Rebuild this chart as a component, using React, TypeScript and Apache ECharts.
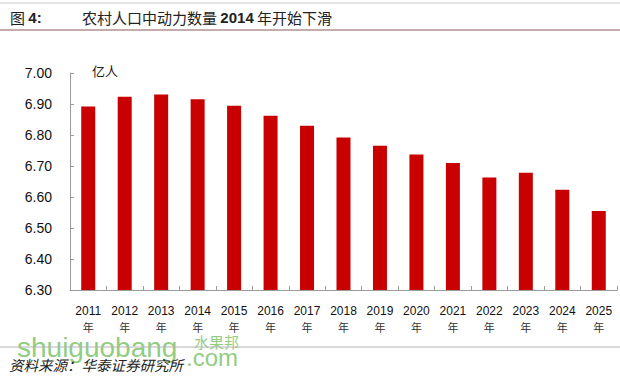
import React, { useEffect, useRef } from "react";
import * as echarts from "echarts";

const categories = ["2011", "2012", "2013", "2014", "2015", "2016", "2017", "2018", "2019", "2020", "2021", "2022", "2023", "2024", "2025"];
const values = [6.892, 6.923, 6.931, 6.915, 6.894, 6.862, 6.83, 6.792, 6.765, 6.737, 6.71, 6.663, 6.678, 6.623, 6.555];
const yMin = 6.3;
const yMax = 7.0;
const yInterval = 0.1;
const titleLabel = "图 ";
const titleNum = "4:";
const titleText = "农村人口中动力数量 ";
const titleYear = "2014";
const titleTail = " 年开始下滑";
const unitText = "亿人";
const sourceText = "资料来源：华泰证券研究所";

export default function App() {
  const ref = useRef<HTMLDivElement>(null);
  useEffect(() => {
    const chart = echarts.init(ref.current!, null, { renderer: "svg" });
    const cjk = "'Noto Sans CJK SC', 'Liberation Sans', sans-serif";
    const latin = "'Liberation Sans', Arial, sans-serif";
    const wm = "#7cc46a";
    chart.setOption({
      animation: false,
      backgroundColor: "#ffffff",
      grid: { left: 70, right: 3, top: 73, bottom: 86, containLabel: false },
      xAxis: {
        type: "category",
        data: categories,
        axisLine: { lineStyle: { color: "#9a9a9a", width: 1 } },
        axisTick: { show: true, inside: true, length: 4, lineStyle: { color: "#9a9a9a" } },
        axisLabel: {
          interval: 0,
          margin: 12,
          formatter: (v: string) => `{a|${v}}\n{b|年}`,
          rich: {
            a: { fontSize: 12, color: "#111", fontFamily: latin, lineHeight: 17 },
            b: { fontSize: 11, color: "#333", fontFamily: cjk, lineHeight: 16 },
          },
        },
      },
      yAxis: {
        type: "value",
        min: yMin,
        max: yMax,
        interval: yInterval,
        splitLine: { show: false },
        axisLine: { show: true, lineStyle: { color: "#9a9a9a", width: 1 } },
        axisTick: { show: true, inside: true, length: 4, lineStyle: { color: "#9a9a9a" } },
        axisLabel: {
          margin: 18,
          fontSize: 14,
          color: "#111",
          fontFamily: latin,
          formatter: (v: number) => v.toFixed(2),
        },
      },
      series: [
        {
          type: "bar",
          data: values,
          barWidth: 14,
          itemStyle: { color: "#C80000" },
        },
      ],
      graphic: [
        { type: "line", shape: { x1: 0, y1: 3, x2: 620, y2: 3 }, style: { stroke: "#c8c8c8", lineWidth: 1 } },
        { type: "line", shape: { x1: 0, y1: 30, x2: 620, y2: 30 }, style: { stroke: "#b09090", lineWidth: 1.5 } },
        {
          type: "text",
          x: 10,
          y: 17,
          style: {
            text: `{a|${titleLabel}}{b|${titleNum}}`,
            verticalAlign: "middle",
            rich: {
              a: { fontSize: 15, fontFamily: cjk, fill: "#222" },
              b: { fontSize: 15, fontFamily: latin, fontWeight: "bold", fill: "#222" },
            },
          },
        },
        {
          type: "text",
          x: 82,
          y: 17,
          style: {
            text: `{a|${titleText}}{b|${titleYear}}{a|${titleTail}}`,
            verticalAlign: "middle",
            rich: {
              a: { fontSize: 15, fontFamily: cjk, fill: "#222" },
              b: { fontSize: 15, fontFamily: latin, fontWeight: "bold", fill: "#222" },
            },
          },
        },
        {
          type: "text",
          x: 92,
          y: 70,
          style: { text: unitText, fontSize: 13, fontFamily: cjk, fill: "#222", verticalAlign: "middle" },
        },
        {
          type: "text",
          x: 17,
          y: 347,
          style: { text: "shuiguobang", fontSize: 28, fontFamily: latin, fill: wm, opacity: 0.85, verticalAlign: "middle" },
        },
        {
          type: "text",
          x: 186,
          y: 357,
          style: { text: ".com", fontSize: 24, fontFamily: latin, fill: wm, opacity: 0.85, verticalAlign: "middle" },
        },
        {
          type: "text",
          x: 194,
          y: 341,
          style: { text: "水果邦", fontSize: 15, fontFamily: cjk, fill: wm, opacity: 0.85, verticalAlign: "middle" },
        },
        { type: "line", shape: { x1: 0, y1: 347, x2: 620, y2: 347 }, style: { stroke: "#b4b4b4", lineWidth: 1 } },
        {
          type: "text",
          x: 9,
          y: 364,
          style: { text: sourceText, fontSize: 14.5, fontFamily: cjk, fontStyle: "italic", fill: "#222", verticalAlign: "middle" },
        },
      ],
    });
    return () => chart.dispose();
  }, []);
  return <div ref={ref} style={{ width: 620, height: 376, position: "absolute", left: 0, top: 0 }} />;
}
